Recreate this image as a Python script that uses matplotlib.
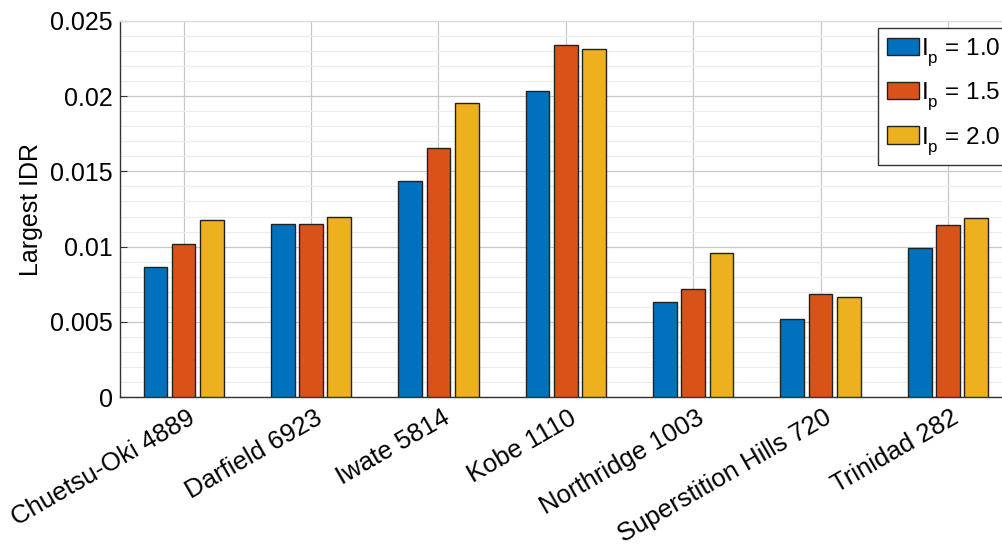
import matplotlib
matplotlib.use("Agg")
import matplotlib.pyplot as plt
import matplotlib.transforms as mtransforms
import numpy as np
from matplotlib.ticker import MultipleLocator
from matplotlib import _mathtext

plt.rcParams['font.family'] = ['Liberation Sans', 'DejaVu Sans']
plt.rcParams['mathtext.fontset'] = 'custom'
plt.rcParams['mathtext.rm'] = 'Liberation Sans'
# drop subscripts a bit lower, closer to TeX-style interpreters
_mathtext.FontConstantsBase.sub1 = 0.6

records = [
    "Chuetsu-Oki 4889",
    "Darfield 6923",
    "Iwate 5814",
    "Kobe 1110",
    "Northridge 1003",
    "Superstition Hills 720",
    "Trinidad 282",
]

idr_ip10 = [0.00864, 0.0115, 0.01436, 0.02035, 0.00634, 0.00516, 0.0099]
idr_ip15 = [0.01019, 0.01152, 0.01656, 0.0234, 0.00716, 0.00683, 0.01144]
idr_ip20 = [0.01179, 0.01199, 0.01957, 0.02314, 0.00955, 0.00665, 0.0119]

series = [
    (idr_ip10, r"I$_\mathrm{p}$ = 1.0", "#0072BD"),
    (idr_ip15, r"I$_\mathrm{p}$ = 1.5", "#D95319"),
    (idr_ip20, r"I$_\mathrm{p}$ = 2.0", "#EDB120"),
]

fig = plt.figure(figsize=(10.03, 5.48), dpi=100)
ax = fig.add_axes([0.1196, 0.2755, 0.889, 0.6862])

x = np.arange(1, len(records) + 1)
offset = 0.222
width = 0.186

for i, (vals, label, color) in enumerate(series):
    ax.bar(x + (i - 1) * offset, vals, width, color=color,
           edgecolor="#222222", linewidth=1.0, label=label, zorder=3)

ax.set_xlim(0.5, len(records) + 0.5)
ax.set_ylim(0, 0.025)
ax.set_xticks(x)
ax.set_xticklabels([])

# rotated category names, right end sitting just right of each tick
lbl_trans = ax.get_xaxis_transform() + mtransforms.ScaledTranslation(
    9 / 100, -19 / 100, fig.dpi_scale_trans)
for xi, name in zip(x, records):
    ax.text(xi, 0, name, transform=lbl_trans, rotation=30, ha="right",
            va="center", rotation_mode="anchor", fontsize=18.5,
            clip_on=False)

ax.set_yticks([0, 0.005, 0.01, 0.015, 0.02, 0.025])
ax.set_yticklabels(["0", "0.005", "0.01", "0.015", "0.02", "0.025"],
                   fontsize=18)
ax.yaxis.set_minor_locator(MultipleLocator(0.001))
ax.set_ylabel("Largest IDR", fontsize=18, labelpad=5)

ax.grid(True, which="major", color="#c8c8c8", linewidth=0.9, zorder=0)
ax.grid(True, which="minor", axis="y", color="#ececec", linewidth=0.8,
        zorder=0)
ax.tick_params(axis="both", which="major", direction="in", length=5,
               color="#333333")
ax.tick_params(axis="y", pad=5)
ax.tick_params(axis="y", which="minor", length=0)
for s in ax.spines.values():
    s.set_color("#333333")
    s.set_linewidth(1.0)
ax.spines["top"].set_color("#dddddd")

leg = ax.legend(loc="upper left", bbox_to_anchor=(878 / 1003, 1 - 28 / 548),
                bbox_transform=fig.transFigure, fontsize=17.5,
                fancybox=False, edgecolor="#333333", framealpha=1,
                handlelength=1.35, handleheight=0.75, handletextpad=0.05,
                labelspacing=0.5, borderpad=0.35, borderaxespad=0)
leg.get_frame().set_linewidth(1.0)

fig.savefig("out.png", dpi=100)
